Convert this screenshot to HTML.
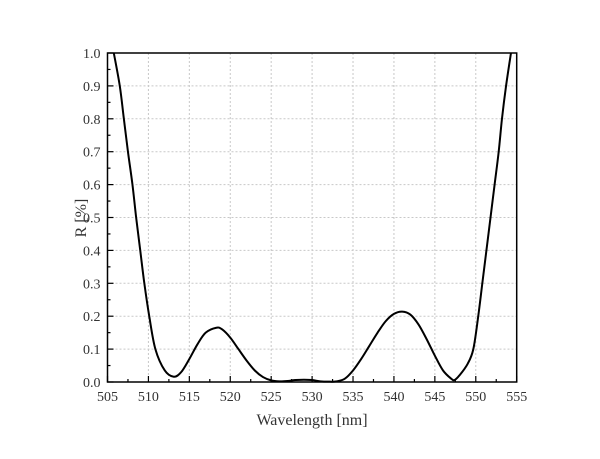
<!DOCTYPE html>
<html><head><meta charset="utf-8"><style>
html,body{margin:0;padding:0;background:#fff;width:600px;height:459px;overflow:hidden}
svg{display:block}
text{font-family:"Liberation Serif","Noto Serif CJK SC",serif;fill:#333}
</style></head><body>
<svg id="chart" width="600" height="459"></svg>
<script>
const xTicks=[505,510,515,520,525,530,535,540,545,550,555];
const yTicks=[0,0.1,0.2,0.3,0.4,0.5,0.6,0.7,0.8,0.9,1.0];
const wl=[505.77,506.5,507.0,507.5,508.05,508.5,509.0,509.5,510.1,510.85,512,513.1,514,515,516,517,518.3,519,520,521,522,523,524,525,526,527,528,529,530,531,532,533,534,535,536,537,538,539,540,541,542,543,544,545,546,547,547.4,548,549,549.7,550.3,550.8,551.3,551.8,552.3,552.8,553.2,553.7,554.3];
const refl=[1.0,0.9,0.8,0.7,0.6,0.5,0.4,0.3,0.2,0.1,0.035,0.016,0.03,0.07,0.115,0.15,0.165,0.16,0.135,0.1,0.065,0.035,0.015,0.005,0.002,0.003,0.006,0.007,0.006,0.002,0.001,0.002,0.01,0.035,0.07,0.11,0.15,0.185,0.207,0.214,0.205,0.175,0.13,0.08,0.035,0.01,0.006,0.02,0.055,0.1,0.2,0.3,0.4,0.5,0.6,0.7,0.8,0.9,1.0];
const L=107.5,R=516.7,T=53,B=382;
const xs=v=>L+(v-505)/(555-505)*(R-L);
const ys=v=>B-v*(B-T);
const NS="http://www.w3.org/2000/svg";
const svg=document.getElementById('chart');
function mk(tag,attrs){const e=document.createElementNS(NS,tag);for(const k in attrs)e.setAttribute(k,attrs[k]);svg.appendChild(e);return e;}
// grid
xTicks.slice(1,-1).forEach(t=>{const g=mk('line',{x1:xs(t),x2:xs(t),y1:T,y2:B,stroke:'#c8c8c8','stroke-dasharray':'2,2','stroke-width':1});

});
yTicks.slice(1,-1).forEach(t=>{const g=mk('line',{x1:L,x2:R,y1:ys(t),y2:ys(t),stroke:'#c8c8c8','stroke-dasharray':'2,2','stroke-width':1});

});
// ticks
xTicks.forEach((t,i)=>{
 const tk=mk('line',{x1:xs(t),x2:xs(t),y1:B,y2:B-6,stroke:'#000','stroke-width':1.2});
 
 
 if(i<xTicks.length-1){const m=mk('line',{x1:xs(t+2.5),x2:xs(t+2.5),y1:B,y2:B-3,stroke:'#000','stroke-width':1.2});
 
 }
 const lb=mk('text',{x:xs(t),y:B+19,'text-anchor':'middle','font-size':14});
 lb.textContent=t;
 
 
});
yTicks.forEach((t,i)=>{
 const tk=mk('line',{x1:L,x2:L+6,y1:ys(t),y2:ys(t),stroke:'#000','stroke-width':1.2});
 
 
 if(i<yTicks.length-1){const m=mk('line',{x1:L,x2:L+3,y1:ys(t+0.05),y2:ys(t+0.05),stroke:'#000','stroke-width':1.2});
 
 }
 const lb=mk('text',{x:L-7,y:ys(t)+5,'text-anchor':'end','font-size':14});
 lb.textContent=t.toFixed(1);
 
 
});
// frame
const fr=mk('rect',{x:L,y:T,width:R-L,height:B-T,fill:'none',stroke:'#000','stroke-width':1.5});


// curve (Catmull-Rom)
const P=wl.map((w,i)=>[xs(w),ys(refl[i])]);
let d='M'+P[0][0]+','+P[0][1];
for(let i=0;i<P.length-1;i++){
 const p0=P[i-1]||P[i],p1=P[i],p2=P[i+1],p3=P[i+2]||P[i+1];
 const c1=[p1[0]+(p2[0]-p0[0])/6,p1[1]+(p2[1]-p0[1])/6];
 const c2=[p2[0]-(p3[0]-p1[0])/6,p2[1]-(p3[1]-p1[1])/6];
 d+=' C'+c1+' '+c2+' '+p2;
}
const cv=mk('path',{d:d,fill:'none',stroke:'#000','stroke-width':2});


// titles
const xt=mk('text',{x:312,y:425,'text-anchor':'middle','font-size':16});
xt.textContent='Wavelength [nm]';


const yt=mk('text',{x:0,y:0,'text-anchor':'middle','font-size':16,transform:'translate(86,218) rotate(-90)'});
yt.textContent='R [%]';


</script>
</body></html>
